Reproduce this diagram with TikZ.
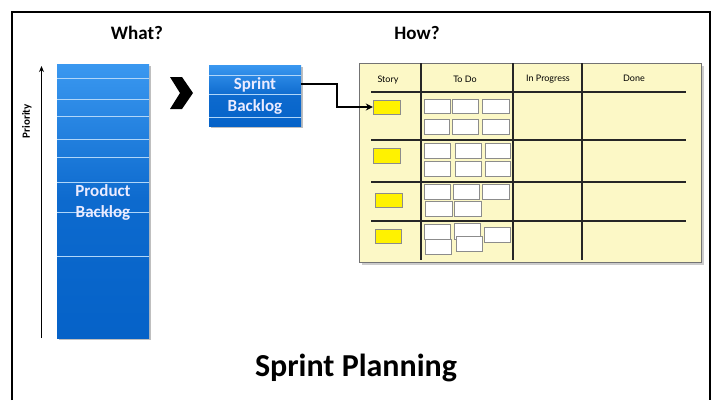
\documentclass[tikz,border=0pt]{standalone}
\usepackage{fontspec}
\setmainfont{Carlito}
\newfontfamily\boardfont{Lato}
\usetikzlibrary{arrows.meta,positioning}
\definecolor{bluetop}{HTML}{3A98F0}
\definecolor{bluebot}{HTML}{0562C8}
\definecolor{boardbg}{HTML}{FCF8C6}
\definecolor{cardyel}{HTML}{FFF200}
\tikzset{
  heading/.style={font=\bfseries\fontsize{19}{22}\selectfont, inner sep=0pt},
  bluetext/.style={font=\bfseries\fontsize{17}{20}\selectfont, text=white!92!blue, inner sep=0pt},
  bluebox/.style={draw=none, top color=bluetop, bottom color=bluebot, middle color=bluebot!85!bluetop},
  sepline/.style={draw=white!60!bluetop, line width=0.7pt},
  boardline/.style={draw=black!85, line width=1.6pt},
  header/.style={font=\boardfont\fontsize{9}{11}\selectfont, inner sep=0pt},
  storycard/.style={draw=black!45, fill=cardyel, line width=0.6pt},
  taskcard/.style={draw=black!45, fill=white, line width=0.6pt},
  frameline/.style={draw=black, line width=2pt},
}
\begin{document}
\begin{tikzpicture}[x=1pt,y=-1pt]
\useasboundingbox (0,0) rectangle (712,400);
% outer frame (open at the bottom)
\draw[frameline] (12,400) -- (12,12) -- (710,12) -- (710,400);

% headings
\node[heading] (what) at (137,33) {What?};
\node[heading] (how) at (417,33) {How?};

% priority arrow
\coordinate (prbot) at (41.5,338);
\coordinate (prtop) at (41.5,66);
\draw[line width=1.6pt, -{Stealth[length=6pt,width=5pt]}] (prbot) -- (prtop);
\node[rotate=90, font=\bfseries\fontsize{11}{13}\selectfont, inner sep=0pt] (priority) at (27,121) {Priority};

% product backlog
\fill[black!25] (59,66) rectangle (151,340);
\path[bluebox] (57,64) rectangle (149,338);
\node[inner sep=0pt, minimum width=92pt, minimum height=274pt] (pb) at (103,201) {};
\foreach \yy in {78,99,116,139,157,182,212,256}
  \draw[sepline] (57,\yy) -- (149,\yy);
\node[bluetext] (pbt1) at (103,191) {Product};
\node[bluetext] (pbt2) at (103,213) {Backlog};

% chevron
\fill[black] (170,77) -- (182,77) -- (193,93) -- (182,109) -- (170,109) -- (180,93) -- cycle;
\node[inner sep=0pt] (chev) at (181,93) {};

% sprint backlog
\fill[black!25] (211,67) rectangle (303,128);
\path[bluebox] (209,65) rectangle (301,126);
\node[inner sep=0pt, minimum width=92pt, minimum height=61pt] (sb) at (255,95.5) {};
\foreach \yy in {75,94,117}
  \draw[sepline] (209,\yy) -- (301,\yy);
\node[bluetext] (sbt1) at (255,85) {Sprint};
\node[bluetext] (sbt2) at (255,107) {Backlog};

% board
\fill[black!20] (362,66) rectangle (704,265);
\draw[fill=boardbg, draw=black!55, line width=1pt] (359,63) rectangle (701,262);
\node[inner sep=0pt, minimum width=342pt, minimum height=199pt] (board) at (530,162.5) {};
\foreach \xx in {421,513,582}
  \draw[boardline] (\xx,63) -- (\xx,260);
\foreach \yy in {92,140,182,221}
  \draw[boardline] (371,\yy) -- (686,\yy);
\node[header] (hstory) at (388,80) {Story};
\node[header] (htodo) at (465,79) {To Do};
\node[header] (hprog) at (548,79) {In Progress};
\node[header] (hdone) at (634,78) {Done};

% story cards
\draw[storycard] (373,100) rectangle (400,114);
\node[inner sep=0pt, minimum width=27pt, minimum height=14pt] (s1) at (386.5,107) {};
\draw[storycard] (373,148) rectangle (400,163);
\draw[storycard] (375,193) rectangle (402,207);
\draw[storycard] (375,229) rectangle (401,243);

% task cards
\foreach \a/\b/\c/\d in {
  424/99/450/113, 452/99/478/113, 482/99/509/113,
  424/119/449/134, 452/119/478/134, 482/119/509/134,
  424/143/450/158, 455/143/481/158, 485/143/510/158,
  424/161/450/176, 455/161/481/176, 485/161/510/176,
  424/184/450/199, 453/184/479/199, 482/184/509/199,
  425/201/452/216, 454/201/481/216,
  424/224/450/239, 454/223/480/239, 484/227/510/242,
  425/239/451/254, 456/236/482/251}
  \draw[taskcard] (\a,\b) rectangle (\c,\d);

% connector
\draw[line width=1.5pt, -{Stealth[length=7pt,width=7pt]}] (sb.east |- 0,84) -- (337,84) -- (337,107) -- (s1.west);

% title
\node[font=\bfseries\fontsize{32}{36}\selectfont, inner sep=0pt, anchor=base] (title) at (356,376) {Sprint Planning};
\end{tikzpicture}
\end{document}
